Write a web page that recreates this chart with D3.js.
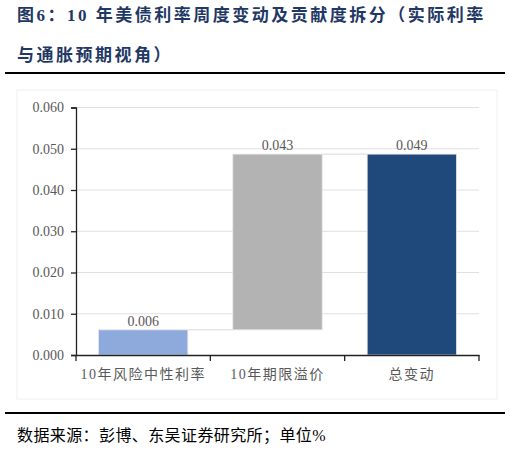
<!DOCTYPE html>
<html>
<head>
<meta charset="utf-8">
<script src="https://cdn.jsdelivr.net/npm/d3@7"></script>
<style>
  body { margin: 0; background: #fff; }
</style>
</head>
<body>
<div id="graph"></div>
<script>
let width = 510, height = 450;

// data
let categories = ["10年风险中性利率", "10年期限溢价", "总变动"];
let values = [0.0061, 0.0426, 0.0487];
let isTotal = [false, false, true];
let barColors = ["#8EA9DB", "#B3B3B3", "#1F487B"];
let yTicks = [0, 0.01, 0.02, 0.03, 0.04, 0.05, 0.06];

let svg = d3.select("#graph").append("svg")
  .attr("width", width)
  .attr("height", height);

let cjk = "'Liberation Serif', 'Noto Sans CJK SC', serif";

// title
let title = svg.append("g")
  .attr("fill", "#1F3864")
  .attr("font-family", cjk)
  .attr("font-weight", "bold")
  .style("font-size", "17px")
  .style("letter-spacing", "2.5px");
title.append("text").attr("x", 17).attr("y", 21).text("图6：10 年美债利率周度变动及贡献度拆分（实际利率");
title.append("text").attr("x", 17).attr("y", 61).text("与通胀预期视角）");

svg.append("line").attr("x1", 5).attr("x2", 505).attr("y1", 73).attr("y2", 73)
  .attr("stroke", "#000").attr("stroke-width", 2);

// chart box
svg.append("rect").attr("x", 17).attr("y", 90).attr("width", 480).attr("height", 309)
  .attr("fill", "none").attr("stroke", "#f0f0f0");

let x = d3.scaleBand().domain(categories).range([76, 479]).padding(0);
let y = d3.scaleLinear().domain([0, 0.06]).range([355, 107.5]);
let barW = x.bandwidth() * 0.665;

// gridlines
svg.append("g").selectAll("line").data(yTicks.slice(1)).enter().append("line")
  .attr("x1", 76).attr("x2", 479)
  .attr("y1", d => y(d)).attr("y2", d => y(d))
  .attr("stroke", "#e0e0e0").attr("stroke-width", 1);

// waterfall positions
let run = 0;
let bars = categories.map((c, i) => {
  let lo, hi;
  if (isTotal[i]) { lo = 0; hi = values[i]; }
  else { lo = run; hi = run + values[i]; run = hi; }
  return { cat: c, lo: lo, hi: hi, v: values[i], color: barColors[i] };
});

// connectors
svg.append("g").selectAll("line").data(bars.slice(0, -1)).enter().append("line")
  .attr("x1", d => x(d.cat) + (x.bandwidth() + barW) / 2)
  .attr("x2", (d, i) => x(bars[i + 1].cat) + (x.bandwidth() - barW) / 2)
  .attr("y1", d => y(d.hi)).attr("y2", d => y(d.hi))
  .attr("stroke", "#d9d9d9").attr("stroke-width", 1);

svg.append("g").selectAll("rect").data(bars).enter().append("rect")
  .attr("x", d => x(d.cat) + (x.bandwidth() - barW) / 2)
  .attr("y", d => y(d.hi))
  .attr("width", barW)
  .attr("height", d => y(d.lo) - y(d.hi))
  .attr("fill", d => d.color)
  .attr("stroke", "#e6e6e6").attr("stroke-width", 0.8);

svg.append("g").selectAll("text").data(bars).enter().append("text")
  .attr("x", d => x(d.cat) + x.bandwidth() / 2)
  .attr("y", d => y(d.hi) - 4)
  .attr("text-anchor", "middle")
  .attr("fill", "#595959")
  .attr("font-family", "'Liberation Serif', serif")
  .style("font-size", "14px")
  .text(d => d3.format(".3f")(d.v));

// axes
let yAxis = svg.append("g").attr("transform", "translate(76,0)")
  .call(d3.axisLeft(y).tickValues(yTicks).tickFormat(d3.format(".3f")).tickSize(5).tickPadding(7));
yAxis.select(".domain").attr("stroke", "#222").attr("stroke-width", 1.3);
yAxis.selectAll(".tick line").attr("stroke", "#222").attr("stroke-width", 1.3);
yAxis.selectAll("text").attr("fill", "#595959")
  .attr("font-family", "'Liberation Serif', serif").style("font-size", "14px");

let xAxis = svg.append("g").attr("transform", "translate(0,355)")
  .call(d3.axisBottom(x).tickSize(0).tickPadding(14));
xAxis.select(".domain").attr("stroke", "#222").attr("stroke-width", 1.3);
xAxis.selectAll("text").attr("fill", "#595959")
  .attr("font-family", cjk).style("font-size", "14px").style("letter-spacing", "1.5px");
svg.append("g").selectAll("line").data(d3.range(categories.length + 1)).enter().append("line")
  .attr("x1", i => 76 + i * x.step()).attr("x2", i => 76 + i * x.step())
  .attr("y1", 355).attr("y2", 361)
  .attr("stroke", "#222").attr("stroke-width", 1.3);

// footer
svg.append("line").attr("x1", 5).attr("x2", 505).attr("y1", 413).attr("y2", 413)
  .attr("stroke", "#000").attr("stroke-width", 2);
svg.append("text").attr("x", 17).attr("y", 441)
  .attr("font-family", cjk).style("font-size", "16px").attr("fill", "#000")
  .style("letter-spacing", "0.4px")
  .text("数据来源：彭博、东吴证券研究所；单位%");
</script>
</body>
</html>
